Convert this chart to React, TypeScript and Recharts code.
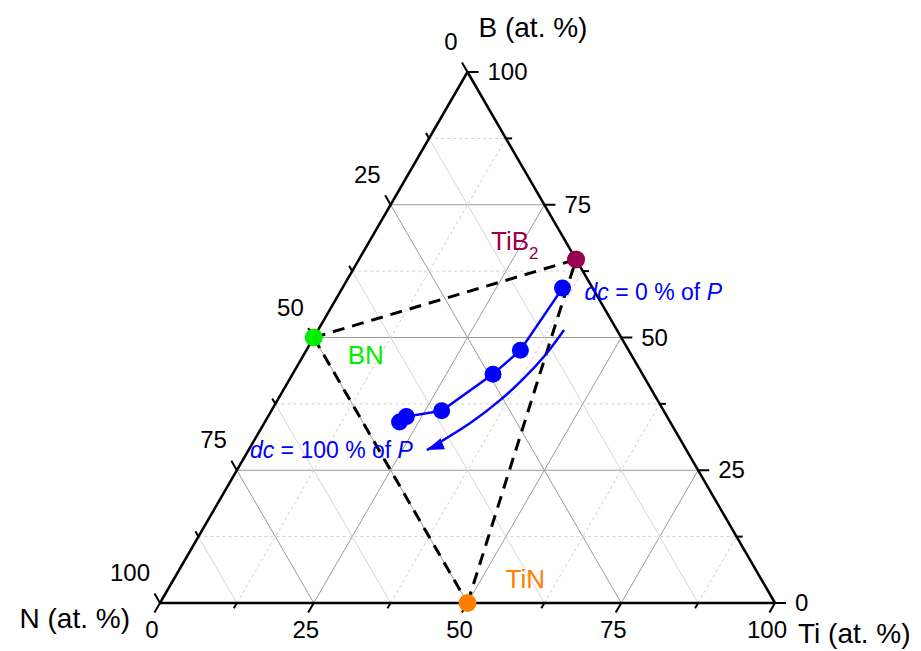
import React from 'react';
import { ComposedChart, XAxis, YAxis, Scatter, Line, ReferenceLine, Cell } from 'recharts';

// Axis tick values (at. %)
const TICK_VALUES = [0, 25, 50, 75, 100];
const MINOR_VALUES = [12.5, 37.5, 62.5, 87.5];
const GRID_MAJOR = [25, 50, 75];
const TICK_LABELS = ['0', '25', '50', '75', '100'];

// Phases: B and Ti contents (at. %), N = 100 - B - Ti
const PHASE_NAMES = ['TiB2', 'BN', 'TiN'];
const PHASE_B = [64.7, 50, 0];
const PHASE_TI = [35.3, 0, 50];
const PHASE_COLORS = ['#990050', '#00ee00', '#ff8000'];

// Tie lines between phases (indices into phase arrays)
const TIE_FROM = [1, 1, 2];
const TIE_TO = [0, 2, 0];

// Film compositions (B, Ti at. %), dc = 100 % ... 0 % of P
const FILM_B = [34.1, 35.1, 36.2, 43.1, 47.6, 59.3];
const FILM_TI = [21.9, 22.5, 27.7, 32.6, 34.8, 35.8];

// Arrow guide (B, Ti at. %), from tip to tail
const ARROW_B = [28.8, 33.9, 38.2, 42.0, 46.7, 51.4];
const ARROW_TI = [29.0, 33.5, 36.2, 37.9, 39.3, 40.0];

const FONT = '"Liberation Sans", Arial, Helvetica, sans-serif';

// ternary (B, Ti) -> cartesian (x, y) in the chart's data space
const toXY = (b: number, ti: number) => ({ x: ti + b / 2, y: b });

const seg = (a: { x: number; y: number }, b: { x: number; y: number }) => [a, b];

// grid segments
type Seg = { p: { x: number; y: number }[]; major: boolean; fam: string };
const gridSegs: Seg[] = [];
[...GRID_MAJOR.map((v) => [v, 1]), ...MINOR_VALUES.map((v) => [v, 0])].forEach(([v, m]) => {
  const major = m === 1;
  // B = v
  gridSegs.push({ p: seg(toXY(v, 0), toXY(v, 100 - v)), major, fam: 'B' });
  // Ti = v
  gridSegs.push({ p: seg(toXY(0, v), toXY(100 - v, v)), major, fam: 'Ti' });
  // N = v
  gridSegs.push({ p: seg(toXY(0, 100 - v), toXY(100 - v, 0)), major, fam: 'N' });
});

// ticks
const tickSegs: { p: { x: number; y: number }[] }[] = [];
const addTicks = (v: number, d: number) => {
  tickSegs.push({ p: seg(toXY(v, 100 - v), toXY(v, 100 - v + d)) }); // B axis (right edge)
  tickSegs.push({ p: seg(toXY(0, v), toXY(-d, v)) }); // Ti axis (bottom edge)
  tickSegs.push({ p: seg(toXY(100 - v, 0), toXY(100 - v + d, -d)) }); // N axis (left edge)
};
TICK_VALUES.forEach((v) => addTicks(v, 1.8));
MINOR_VALUES.forEach((v) => addTicks(v, 1.0));

const edges = [
  seg(toXY(0, 0), toXY(0, 100)),
  seg(toXY(0, 100), toXY(100, 0)),
  seg(toXY(100, 0), toXY(0, 0)),
];

const phaseData = PHASE_NAMES.map((name, i) => ({ ...toXY(PHASE_B[i], PHASE_TI[i]), name }));
const filmData = FILM_B.map((b, i) => toXY(b, FILM_TI[i]));
const arrowData = ARROW_B.map((b, i) => toXY(b, ARROW_TI[i]));
const arrowTip = [arrowData[0]];

const bLabels = TICK_VALUES.map((v, i) => ({ ...toXY(v, 100 - v), label: TICK_LABELS[i] }));
const tiLabels = TICK_VALUES.map((v, i) => ({ ...toXY(0, v), label: TICK_LABELS[i] }));
const nLabels = TICK_VALUES.map((v, i) => ({ ...toXY(100 - v, 0), label: TICK_LABELS[i] }));

const pick = (props: any, key: string) => (props.payload && props.payload[key] !== undefined ? props.payload[key] : props[key]);

const makeText = (dx: number, dy: number, anchor: string, size: number, color = '#000') => (props: any) => (
  <text
    x={props.cx + dx}
    y={props.cy + dy}
    textAnchor={anchor}
    fontSize={size}
    fontFamily={FONT}
    fill={color}
  >
    {pick(props, 'label')}
  </text>
);

const dot = (r: number, color: string) => (props: any) => (
  <circle cx={props.cx} cy={props.cy} r={r} fill={props.fill || color} />
);

const arrowHead = (props: any) => {
  const { cx, cy } = props;
  const ux = 0.93, uy = -0.37; // from tip back toward tail (pixels)
  const L = 17, W = 6;
  const bx = cx + ux * L, by = cy + uy * L;
  const px = -uy, py = ux;
  return (
    <polygon
      points={`${cx},${cy} ${bx + px * W},${by + py * W} ${bx - px * W},${by - py * W}`}
      fill="#0000ff"
    />
  );
};

export default function App() {
  return (
    <ComposedChart width={905} height={643} margin={{ top: 64, right: 138, bottom: 48, left: 152 }}>
      <XAxis type="number" dataKey="x" domain={[0, 100]} hide />
      <YAxis type="number" dataKey="y" domain={[0, 100]} hide />

      {gridSegs.map((s, i) => (
        <ReferenceLine
          key={'g' + i}
          segment={s.p}
          ifOverflow="visible"
          stroke={s.major ? '#9a9a9a' : s.fam === 'N' ? '#d6d6d6' : '#cfcfcf'}
          strokeWidth={1}
          strokeDasharray={!s.major && s.fam !== 'N' ? '3 3' : undefined}
        />
      ))}
      {edges.map((s, i) => (
        <ReferenceLine key={'e' + i} segment={s} ifOverflow="visible" stroke="#000" strokeWidth={2.5} />
      ))}
      {tickSegs.map((s, i) => (
        <ReferenceLine key={'t' + i} segment={s.p} ifOverflow="visible" stroke="#000" strokeWidth={2} />
      ))}
      {TIE_FROM.map((f, i) => (
        <ReferenceLine
          key={'tie' + i}
          segment={[phaseData[f], phaseData[TIE_TO[i]]]}
          ifOverflow="visible"
          stroke="#000"
          strokeWidth={3}
          strokeDasharray="12 8"
        />
      ))}

      <Line
        data={arrowData}
        dataKey="y"
        type="natural"
        stroke="#0000ff"
        strokeWidth={2.5}
        dot={false}
        activeDot={false}
        isAnimationActive={false}
      />
      <Scatter data={arrowTip} shape={arrowHead} isAnimationActive={false} />

      <Line
        data={filmData}
        dataKey="y"
        type="linear"
        stroke="#0000ff"
        strokeWidth={2.5}
        dot={false}
        activeDot={false}
        isAnimationActive={false}
      />
      <Scatter data={filmData} shape={dot(8.5, '#0000ff')} fill="#0000ff" isAnimationActive={false} />

      <Scatter data={phaseData} shape={dot(9, '#000')} isAnimationActive={false}>
        {phaseData.map((_, i) => (
          <Cell key={i} fill={PHASE_COLORS[i]} />
        ))}
      </Scatter>

      <Scatter data={bLabels} shape={makeText(20, 8, 'start', 24)} isAnimationActive={false} />
      <Scatter data={tiLabels} shape={makeText(-8, 35, 'middle', 24)} isAnimationActive={false} />
      <Scatter data={nLabels} shape={makeText(-10, -22, 'end', 24)} isAnimationActive={false} />

      <Scatter data={[{ ...toXY(100, 0), label: 'B (at. %)' }]} shape={makeText(11, -35, 'start', 28)} isAnimationActive={false} />
      <Scatter data={[{ ...toXY(0, 0), label: 'N (at. %)' }]} shape={makeText(-30, 25, 'end', 28)} isAnimationActive={false} />
      <Scatter data={[{ ...toXY(0, 100), label: 'Ti (at. %)' }]} shape={makeText(23, 40, 'start', 28)} isAnimationActive={false} />

      <Scatter
        data={[phaseData[0]]}
        isAnimationActive={false}
        shape={(p: any) => (
          <text x={p.cx - 85} y={p.cy - 9} fontSize={26} fontFamily={FONT} fill={PHASE_COLORS[0]}>
            <tspan>TiB</tspan>
            <tspan dy={9} fontSize={17}>2</tspan>
          </text>
        )}
      />
      <Scatter
        data={[{ ...phaseData[1], label: 'BN' }]}
        shape={makeText(34, 26, 'start', 26, PHASE_COLORS[1])}
        isAnimationActive={false}
      />
      <Scatter
        data={[{ ...phaseData[2], label: 'TiN' }]}
        shape={makeText(38, -15, 'start', 26, PHASE_COLORS[2])}
        isAnimationActive={false}
      />
      <Scatter
        data={[filmData[filmData.length - 1]]}
        isAnimationActive={false}
        shape={(p: any) => (
          <text x={p.cx + 22} y={p.cy + 12} fontSize={23} fontFamily={FONT} fill="#0000ff">
            <tspan fontStyle="italic">dc</tspan>
            <tspan> = 0 % of </tspan>
            <tspan fontStyle="italic">P</tspan>
          </text>
        )}
      />
      <Scatter
        data={arrowTip}
        isAnimationActive={false}
        shape={(p: any) => (
          <text x={p.cx - 14} y={p.cy + 8} fontSize={23} fontFamily={FONT} fill="#0000ff" textAnchor="end">
            <tspan fontStyle="italic">dc</tspan>
            <tspan> = 100 % of </tspan>
            <tspan fontStyle="italic">P</tspan>
          </text>
        )}
      />
    </ComposedChart>
  );
}
